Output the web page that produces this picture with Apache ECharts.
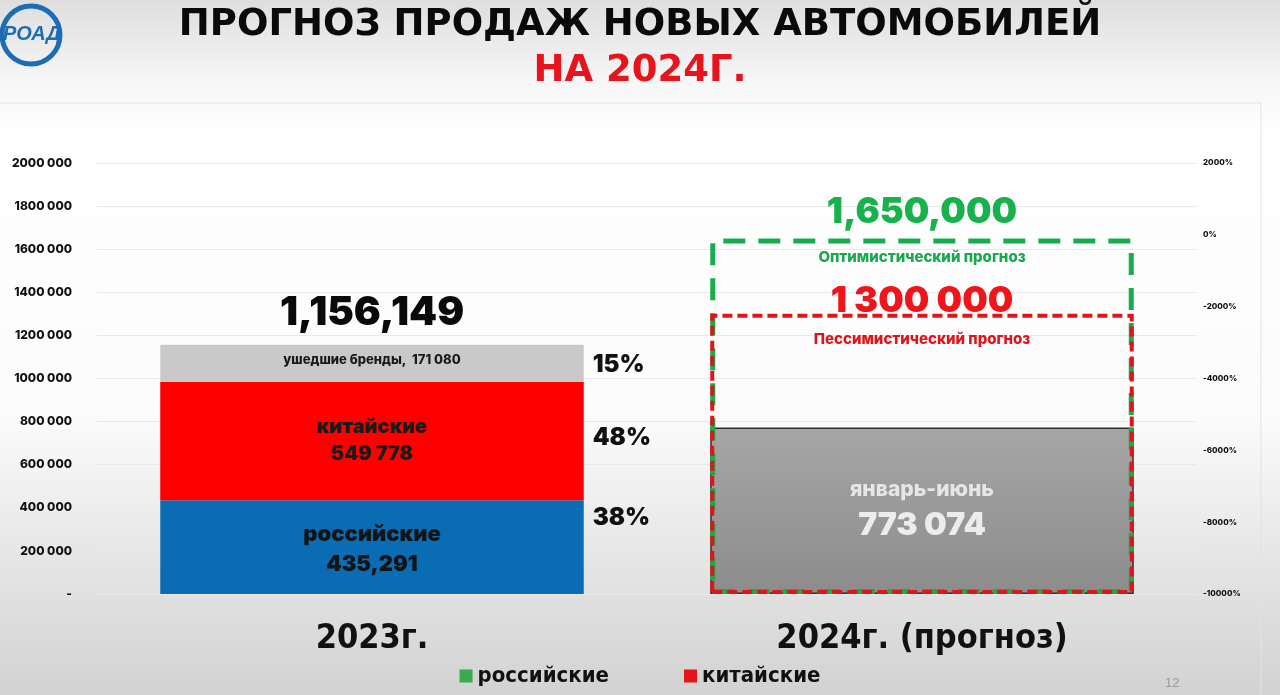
<!DOCTYPE html>
<html>
<head>
<meta charset="utf-8">
<script src="https://cdn.jsdelivr.net/npm/echarts@6/dist/echarts.min.js"></script>
<style>
html,body{margin:0;padding:0;width:1280px;height:695px;overflow:hidden;}
#chart{width:1280px;height:695px;}
</style>
</head>
<body>
<div id="chart"></div>
<script>
// ---- DATA ----
const categories = ['2023г.', '2024г. (прогноз)'];
const russian = [435291, '-'];
const chinese = [549778, '-'];
const departed = [171080, '-'];
const total2023 = [1156149, '-'];
const janJun = ['-', 773074];
const pessimistic = ['-', 1300000];
const optimistic = ['-', 1650000];
const russianText = '435,291';
const chineseText = '549 778';
const departedText = '171 080';
const janJunText = '773 074';
const totalText = '1,156,149';
const pessimisticText = '1 300 000';
const optimisticText = '1,650,000';
const leftTicks = {min: 0, max: 2000000, interval: 200000};
const rightTicks = {min: -10000, max: 2000, interval: 2000};

const FONT = 'Inter, "Open Sans", sans-serif';
const NARROW = '"Liberation Sans Narrow", "DejaVu Sans Condensed", sans-serif';
const HEAD = '"DejaVu Sans", sans-serif';

const chart = echarts.init(document.getElementById('chart'));
const sum2023 = russian[0] + chinese[0] + departed[0];
const pct = v => Math.round(v / sum2023 * 100) + '%';

const base = {type: 'bar', barWidth: '77%', barGap: '-100%', emphasis: {disabled: true}, silent: true};
const pctSeries = (name, data, dy) => Object.assign({}, base, {
  name: name + '_pct', stack: 'pct', data: data, z: 1,
  itemStyle: {color: 'rgba(0,0,0,0)'},
  label: {show: true, position: 'right', distance: 9, offset: [0, dy],
    formatter: p => pct(p.value), color: '#111', fontFamily: FONT, fontWeight: 900, fontSize: 24}
});

chart.setOption({
  backgroundColor: {type: 'linear', x: 0, y: 0, x2: 0, y2: 1, colorStops: [
    {offset: 0, color: '#dedede'}, {offset: 0.12, color: '#f7f7f7'}, {offset: 0.2, color: '#ffffff'},
    {offset: 0.6, color: '#fbfbfb'}, {offset: 0.8, color: '#e6e6e6'}, {offset: 1, color: '#d2d2d2'}]},
  animation: false,
  title: [
    {text: 'ПРОГНОЗ ПРОДАЖ НОВЫХ АВТОМОБИЛЕЙ', left: 'center', top: 2,
      textStyle: {fontFamily: HEAD, fontWeight: 'bold', fontSize: 37, color: '#0a0a0a'}},
    {text: 'НА 2024Г.', left: 'center', top: 48,
      textStyle: {fontFamily: HEAD, fontWeight: 'bold', fontSize: 37, color: '#e8141b'}}
  ],
  graphic: [
    {type: 'line', shape: {x1: 0, y1: 103, x2: 1262, y2: 103}, style: {stroke: '#e4e4e4', lineWidth: 1}, silent: true},
    {type: 'line', shape: {x1: 1261, y1: 103, x2: 1261, y2: 695}, style: {stroke: '#e2e2e2', lineWidth: 1}, silent: true},
    {type: 'circle', shape: {cx: 31, cy: 35, r: 29}, style: {fill: 'none', stroke: '#1d6db4', lineWidth: 5}, silent: true},
    {type: 'text', x: 3, y: 24, style: {text: 'РОАД', fill: '#1d6db4', font: 'italic 900 20px "Liberation Sans", sans-serif'}, silent: true},
    {type: 'text', x: 1165, y: 677, style: {text: '12', fill: '#9a9a9a', font: '13px "Liberation Sans", sans-serif'}, silent: true}
  ],
  legend: {
    bottom: 3, left: 'center', itemGap: 75, itemWidth: 13, itemHeight: 13,
    icon: 'rect',
    data: [
      {name: 'российские', itemStyle: {color: '#3aa94f'}},
      {name: 'китайские', itemStyle: {color: '#e3141b'}}
    ],
    textStyle: {fontFamily: NARROW, fontWeight: 'bold', fontSize: 22, color: '#111'}
  },
  grid: {left: 97, right: 83, top: 163, bottom: 101},
  xAxis: {
    type: 'category', data: categories,
    axisLine: {show: false}, axisTick: {show: false},
    axisLabel: {margin: 28, fontFamily: NARROW, fontWeight: 'bold', fontSize: 34, color: '#111'}
  },
  yAxis: [
    {type: 'value', min: leftTicks.min, max: leftTicks.max, interval: leftTicks.interval,
      axisLine: {show: false}, axisTick: {show: false},
      splitLine: {lineStyle: {color: '#e9e9e9', width: 1}},
      axisLabel: {margin: 25, fontFamily: FONT, fontWeight: 800, fontSize: 12, color: '#111',
        formatter: v => v === 0 ? '-' : (v / 1000) + ' 000'}},
    {type: 'value', min: rightTicks.min, max: rightTicks.max, interval: rightTicks.interval,
      axisLine: {show: false}, axisTick: {show: false}, splitLine: {show: false},
      axisLabel: {margin: 6, fontFamily: FONT, fontWeight: 800, fontSize: 8, color: '#111', formatter: v => v + '%'}}
  ],
  series: [
    Object.assign({}, base, {name: 'российские', stack: 's', data: russian, z: 2,
      itemStyle: {color: '#0a6cb3'},
      label: {show: true, position: 'inside', formatter: 'российские\n' + russianText, color: '#141414',
        fontFamily: FONT, fontWeight: 900, fontSize: 22, lineHeight: 30, offset: [0, 2]}}),
    Object.assign({}, base, {name: 'китайские', stack: 's', data: chinese, z: 2,
      itemStyle: {color: '#ff0000'},
      label: {show: true, position: 'inside', formatter: 'китайские\n' + chineseText, color: '#1a1a1a',
        fontFamily: FONT, fontWeight: 900, fontSize: 20, lineHeight: 27}}),
    Object.assign({}, base, {name: 'ушедшие бренды', stack: 's', data: departed, z: 2,
      itemStyle: {color: '#c9c9c9'},
      label: {show: true, position: 'inside', formatter: 'ушедшие бренды,  ' + departedText, color: '#1a1a1a',
        fontFamily: FONT, fontWeight: 800, fontSize: 13, offset: [0, -3]}}),
    pctSeries('российские', russian, -29),
    pctSeries('китайские', chinese, -3),
    pctSeries('ушедшие бренды', departed, 1),
    Object.assign({}, base, {name: 'итого', data: total2023, z: 1,
      itemStyle: {color: 'rgba(0,0,0,0)'},
      label: {show: true, position: 'top', distance: 12, formatter: totalText, color: '#0a0a0a',
        fontFamily: FONT, fontWeight: 900, fontSize: 40}}),
    Object.assign({}, base, {name: 'январь-июнь', data: janJun, z: 2,
      itemStyle: {color: {type: 'linear', x: 0, y: 0, x2: 0, y2: 1, colorStops: [
        {offset: 0, color: '#a6a6a6'}, {offset: 1, color: '#8c8c8c'}]}, borderColor: '#2e2e2e', borderWidth: 1.5},
      label: {show: true, position: 'inside', offset: [0, -2],
        formatter: '{a|январь-июнь}\n{b|' + janJunText + '}',
        rich: {a: {color: '#e6e6e6', fontFamily: FONT, fontWeight: 800, fontSize: 21, lineHeight: 34},
               b: {color: '#ececec', fontFamily: FONT, fontWeight: 900, fontSize: 32, lineHeight: 38}}}}),
    Object.assign({}, base, {name: 'Оптимистический прогноз', data: optimistic, z: 3,
      itemStyle: {color: 'rgba(0,0,0,0)', borderColor: '#16ad4c', borderWidth: 5, borderType: [22, 13]},
      label: {show: true, position: 'insideTop', distance: 0, offset: [0, -48],
        formatter: '{a|' + optimisticText + '}\n{b|Оптимистический прогноз}',
        rich: {a: {color: '#17b24c', fontFamily: FONT, fontWeight: 900, fontSize: 36, lineHeight: 44},
               b: {color: '#1aa84d', fontFamily: FONT, fontWeight: 800, fontSize: 15, lineHeight: 46}}}}),
    Object.assign({}, base, {name: 'Пессимистический прогноз', data: pessimistic, z: 4,
      itemStyle: {color: 'rgba(0,0,0,0)', borderColor: '#e0141b', borderWidth: 4, borderType: [10, 5]},
      label: {show: true, position: 'insideTop', distance: 0, offset: [0, -33],
        formatter: '{a|' + pessimisticText + '}\n{b|Пессимистический прогноз}',
        rich: {a: {color: '#f0141b', fontFamily: FONT, fontWeight: 900, fontSize: 36, lineHeight: 40},
               b: {color: '#e0141b', fontFamily: FONT, fontWeight: 800, fontSize: 15, lineHeight: 38}}}})
  ]
});
</script>
</body>
</html>
